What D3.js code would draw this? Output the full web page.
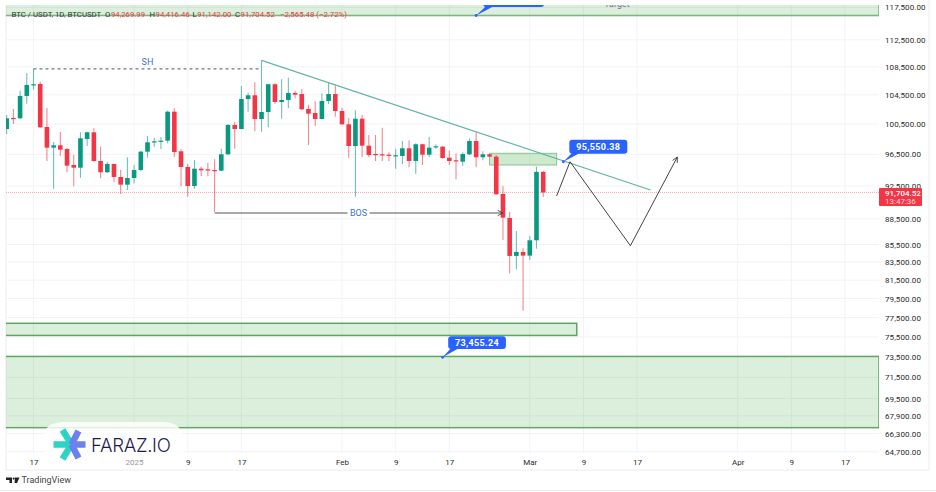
<!DOCTYPE html>
<html>
<head>
<meta charset="utf-8">
<script src="https://cdn.jsdelivr.net/npm/d3@7"></script>
<style>
html, body { margin: 0; padding: 0; background: #fff; }
svg { display: block; }
text { font-family: Roboto, sans-serif; }
</style>
</head>
<body>
<svg id="chart" width="936" height="492"></svg>
<script>
// daily candles, first one is 13 Dec 2024
var firstDay = Date.UTC(2024, 11, 13);
var opens = [99835,101320,101275,104350,105895,106040,100100,97370,97680,97200,95140,94795,98510,99395,95650,94215,95265,93625,92665,93495,94500,96850,98075,98205,98285,102175,96900,94885,92500,94670,94590,94500,94415,96510,100375,99835,103925,104445,101180,102135,106000,103510,103785,104765,104625,102545,102000,101180,103650,104625,102270,100465,97590,101220,97630,96550,96510,96460,96295,96295,97290,95650,97815,96460,97460,97500,96075,95740,95560,96510,98245,96125,96510,96205,91515,88600,84195,84650,84230,85985,94269.99];
var highs = [101725,102545,105090,107610,108190,106360,102680,98115,99435,97290,96420,99395,99475,99930,97500,95560,95305,94500,96125,95140,96940,98905,98680,98775,102310,102640,97160,95305,95775,94920,95395,95865,97240,100505,100775,105755,104810,106280,109450,106040,106135,106705,106935,105090,105285,103140,103605,104725,106220,105855,102725,101315,102365,101725,99040,99040,100010,96770,97240,98245,98340,97945,97895,98775,97815,97590,96975,96640,96770,98600,99435,96900,96550,96420,92500,89320,87065,85070,86485,94920,94416.46];
var lows = [99170,100505,101220,103275,105230,100010,95650,92165,96330,94210,92460,93535,97590,95560,93460,94125,92960,91515,92005,92835,94340,96075,97500,97200,97945,96165,92460,91185,92165,93750,93710,89320,94340,96420,97240,99795,102175,99570,99475,100065,103275,101220,102640,104025,102405,97725,100240,101140,103235,101495,100375,96075,91185,96125,96125,95650,95650,95650,94670,95225,94845,94035,95140,96165,97240,95945,95140,93335,95010,96420,94845,95740,96125,91390,86020,82250,82695,78215,83735,85025,91142];
var closes = [101275,101220,104350,105895,106000,100060,97370,97680,97110,95050,94795,98600,99395,95650,94215,95265,93625,92665,93495,94500,96850,98075,98205,98285,102175,96810,94885,92500,94670,94465,94465,94415,96510,100375,99835,103925,104445,101180,102135,106000,103510,103785,104765,104530,102505,101905,101180,103650,104625,102270,100465,97590,101220,97630,96420,96420,96420,96385,96385,97290,95650,97815,96460,97370,97555,96035,95650,95650,96550,98245,96125,96510,96205,91480,88640,84195,84650,84230,85985,94270,91704.52];

var priceTicks = [117500,112500,108500,104500,100500,96500,92500,88500,85500,83500,81500,79500,77500,75500,73500,71500,69500,67900,66300,64700];
var dateTicks = ["2024-12-17","2025-01-01","2025-01-09","2025-01-17","2025-02-01","2025-02-09","2025-02-17","2025-03-01","2025-03-09","2025-03-17","2025-04-01","2025-04-09","2025-04-17"].map(function(d) { return new Date(d); });
var dateLabels = ["17","2025","9","17","Feb","9","17","Mar","9","17","Apr","9","17"];

// drawings on the chart, [date, price]
var trendLine = [["2025-01-20",109450],["2025-03-19",92005]];
var swingHigh = [["2024-12-17",108190],["2025-01-20",108190]];
var bosLine = [["2025-01-13",89200],["2025-02-25",89200]];
var projection = [["2025-03-05",91266],["2025-03-07",95559],["2025-03-16",85361],["2025-03-23",96164]];
var zoneTop = [116217, 125000];
var zoneMid = [75654, 76900];
var zoneSmall = ["2025-02-23","2025-03-05",95140,96640];
var zoneLow = [66826, 73547];
var zoneMidEnd = "2025-03-08";
var lastPrice = 91704.52;

var svg = d3.select("#chart");
var plot = {left: 6, right: 879, top: 5, bottom: 453};

var x = d3.scaleUtc()
    .domain([new Date("2024-12-17"), new Date("2025-04-17")])
    .range([33.5, 845]);
var y = d3.scaleLog()
    .domain([64700, 92500, 117500])
    .range([451.7, 186, 7.3]);

var px = function(d) { return x(new Date(d)); };
var lineGen = d3.line()
    .x(function(d) { return px(d[0]); })
    .y(function(d) { return y(d[1]); });

svg.append("defs").append("clipPath").attr("id", "plotClip")
    .append("rect")
    .attr("x", plot.left).attr("y", plot.top)
    .attr("width", plot.right - plot.left).attr("height", plot.bottom - plot.top);
svg.select("defs").append("marker")
    .attr("id", "arrow").attr("viewBox", "0 0 8 8").attr("refX", 7).attr("refY", 4)
    .attr("markerWidth", 7).attr("markerHeight", 7).attr("orient", "auto")
    .attr("markerUnits", "userSpaceOnUse")
    .append("path").attr("d", "M1,1L7,4L1,7").attr("fill", "none").attr("stroke", "#444").attr("stroke-width", 1);

// frame
svg.append("path").attr("d", "M6,5V470H929V0M0,490.5H936").attr("fill", "none").attr("stroke", "#ececec");

// grid
svg.append("g").selectAll("line").data(priceTicks).enter().append("line")
    .attr("x1", plot.left).attr("x2", plot.right)
    .attr("y1", function(d) { return y(d); }).attr("y2", function(d) { return y(d); })
    .attr("stroke", "#f1f3f6");
svg.append("g").selectAll("line").data(dateTicks).enter().append("line")
    .attr("x1", function(d) { return x(d); }).attr("x2", function(d) { return x(d); })
    .attr("y1", plot.top).attr("y2", plot.bottom)
    .attr("stroke", "#f1f3f6");

var g = svg.append("g").attr("clip-path", "url(#plotClip)");

// zones
var zoneFill = "rgba(76,175,80,0.2)";
function hZone(x0, x1, prices, stroke, w) {
    g.append("rect")
        .attr("x", x0).attr("width", x1 - x0)
        .attr("y", y(prices[1])).attr("height", y(prices[0]) - y(prices[1]))
        .attr("fill", zoneFill).attr("stroke", stroke).attr("stroke-width", w);
}
hZone(0, plot.right, zoneTop, "#7ab97c", 1.6);
hZone(0, px(zoneMidEnd), zoneMid, "#5ba75e", 1.5);
hZone(0, plot.right, zoneLow, "#5fa962", 1.5);
hZone(px(zoneSmall[0]), px(zoneSmall[1]), zoneSmall.slice(2), "#8cc48e", 1);
g.select("rect:last-child").attr("fill", "rgba(76,175,80,0.28)");

// last price line
g.append("line")
    .attr("x1", plot.left).attr("x2", plot.right)
    .attr("y1", y(lastPrice)).attr("y2", y(lastPrice))
    .attr("stroke", "#f23645").attr("stroke-opacity", 0.45).attr("stroke-dasharray", "1,1");

// candles
var candles = opens.map(function(o, i) {
    return {date: new Date(firstDay + i * 86400000), o: o, h: highs[i], l: lows[i], c: closes[i]};
});
var bodyW = 4.6;
var color = function(d) { return d.c >= d.o ? "#089981" : "#f23645"; };
var cg = g.selectAll(".candle").data(candles).enter().append("g").attr("class", "candle");
cg.append("line")
    .attr("x1", function(d) { return x(d.date); }).attr("x2", function(d) { return x(d.date); })
    .attr("y1", function(d) { return y(d.h); }).attr("y2", function(d) { return y(d.l); })
    .attr("stroke", color).attr("stroke-opacity", 0.6).attr("stroke-width", 1.1);
cg.append("rect")
    .attr("x", function(d) { return x(d.date) - bodyW / 2; })
    .attr("width", bodyW)
    .attr("y", function(d) { return y(Math.max(d.o, d.c)); })
    .attr("height", function(d) { return Math.max(1.2, Math.abs(y(d.o) - y(d.c))); })
    .attr("fill", color);

// trend line, swing high, BOS, projected path
g.append("path").attr("d", lineGen(trendLine)).attr("fill", "none").attr("stroke", "#62b5a4").attr("stroke-width", 1.2);
g.append("path").attr("d", lineGen(swingHigh)).attr("fill", "none").attr("stroke", "#777").attr("stroke-width", 1.2).attr("stroke-dasharray", "3,3");
g.append("path").attr("d", lineGen(bosLine)).attr("fill", "none").attr("stroke", "#555").attr("stroke-width", 1).attr("marker-end", "url(#arrow)");
g.append("path").attr("d", lineGen(projection)).attr("fill", "none").attr("stroke", "#444").attr("stroke-width", 1).attr("marker-end", "url(#arrow)");

function noteLabel(txt, cx, cy) {
    var w = 22;
    g.append("rect").attr("x", cx - w / 2).attr("y", cy - 5).attr("width", w).attr("height", 10).attr("fill", "#fff");
    g.append("text").attr("x", cx).attr("y", cy + 3).attr("text-anchor", "middle")
        .attr("font-size", 9).attr("fill", "#3f6fe0").text(txt);
}
g.append("text").attr("x", 147.5).attr("y", y(108190) - 4).attr("text-anchor", "middle")
    .attr("font-size", 9).attr("fill", "#3f6fe0").text("SH");
noteLabel("BOS", 358.5, y(89200));

// blue price callouts
function callout(date, price, dx0, dx1, dy0, dy1, txt) {
    var tx = px(date), ty = y(price);
    var c = svg.append("g").attr("clip-path", "url(#plotClip)");
    c.append("path")
        .attr("d", "M" + tx + "," + ty + "L" + (tx + dx0 + 3) + "," + (ty + dy1 - 1) + "L" + (tx + dx0 + 11) + "," + (ty + dy1 - 1) + "Z")
        .attr("fill", "#2962ff");
    c.append("circle").attr("cx", tx).attr("cy", ty).attr("r", 1.4).attr("fill", "#2962ff");
    c.append("rect").attr("x", tx + dx0).attr("y", ty + dy0).attr("width", dx1 - dx0).attr("height", dy1 - dy0)
        .attr("rx", 3).attr("fill", "#2962ff");
    c.append("text").attr("x", tx + (dx0 + dx1) / 2).attr("y", ty + (dy0 + dy1) / 2 + 3.2)
        .attr("text-anchor", "middle").attr("font-size", 9).attr("font-weight", 700)
        .attr("letter-spacing", 0.35).attr("fill", "#fff").text(txt);
}
callout("2025-03-06", 95550.38, 6, 64, -22, -8, "95,550.38");
callout("2025-02-16", 73455.24, 5.6, 63.3, -21, -8.4, "73,455.24");
callout("2025-02-21", 116217, 7, 68, -20, -8.5, "");

g.append("text").attr("x", px("2025-03-14")).attr("y", 7).attr("text-anchor", "middle")
    .attr("font-size", 9).attr("fill", "#8a6a9c").text("Target");

// axes
var axisFont = "8px";
var yAxis = svg.append("g").attr("transform", "translate(" + plot.right + ",0)")
    .call(d3.axisRight(y).tickValues(priceTicks).tickSize(0).tickPadding(6).tickFormat(d3.format(",.2f")));
yAxis.select(".domain").remove();
yAxis.selectAll("text").style("font-size", axisFont).style("font-family", "Roboto, sans-serif").attr("fill", "#2a2a2a").attr("letter-spacing", 0.1);

var xAxis = svg.append("g").attr("transform", "translate(0," + plot.bottom + ")")
    .call(d3.axisBottom(x).tickValues(dateTicks).tickSize(0).tickPadding(6)
        .tickFormat(function(d, i) { return dateLabels[i]; }));
xAxis.select(".domain").remove();
xAxis.selectAll("text").style("font-size", axisFont).style("font-family", "Roboto, sans-serif")
    .attr("fill", function(d, i) { return dateLabels[i] === "2025" ? "#999" : "#2a2a2a"; });

// last price tag
svg.append("rect").attr("x", plot.right).attr("y", 188).attr("width", 43).attr("height", 18).attr("rx", 1).attr("fill", "#f23645");
svg.append("text").attr("x", 885).attr("y", 195.8).attr("font-size", 8).attr("font-weight", 500).attr("fill", "#fff").text(d3.format(",.2f")(lastPrice));
svg.append("text").attr("x", 885).attr("y", 203.5).attr("font-size", 8).attr("fill", "#ffd9dc").text("13:47:36");

// header legend
var head = svg.append("text").attr("x", 11.5).attr("y", 16.6).attr("font-size", 7.8);
head.append("tspan").attr("fill", "#333").text("BTC / USDT, 1D, BTCUSDT");
[["O", "94,269.99", 105], ["H", "94,416.46", 149.5], ["L", "91,142.00", 192.5], ["C", "91,704.52", 235]].forEach(function(p) {
    head.append("tspan").attr("x", p[2]).attr("fill", "#333").text(p[0]);
    head.append("tspan").attr("dx", 0.5).attr("fill", "#f23645").text(p[1]);
});
head.append("tspan").attr("x", 280).attr("fill", "#f23645").text("\u22122,565.48 (\u22122.72%)");

// faraz.io badge
svg.append("path").attr("d", "M43,453V440Q43,422 64,422H162Q183,422 183,440V453Z").attr("fill", "#fff").attr("fill-opacity", 0.82);
var star = svg.append("g").attr("transform", "translate(71.5,444.5)").attr("stroke-width", 6.5);
[[-18, 0], [-9, -14.5], [-9, 14.5]].forEach(function(a) {
    star.append("line").attr("x1", a[0]).attr("y1", a[1]).attr("x2", 0).attr("y2", 0).attr("stroke", "#2dd3c5");
});
[[14, 0], [7, -13.5], [7, 13.5]].forEach(function(a) {
    star.append("line").attr("x1", a[0]).attr("y1", a[1]).attr("x2", 0).attr("y2", 0).attr("stroke", "#6c80f0");
});
svg.append("text").attr("x", 91).attr("y", 452).attr("font-family", "Inter, sans-serif").attr("font-size", 18.6)
    .attr("font-weight", 300).attr("letter-spacing", -0.3).style("font-family", "Inter, sans-serif").attr("fill", "#1d1d4b").text("FARAZ.IO");

// tradingview mark
svg.append("path").attr("d", "M6,477.5H12V483H9.5V480H6ZM15,477.5H19.5L17,483H14.5Z").attr("fill", "#222");
svg.append("circle").attr("cx", 13.7).attr("cy", 478.6).attr("r", 1.1).attr("fill", "#222");
svg.append("text").attr("x", 21.5).attr("y", 483).attr("font-size", 9).attr("fill", "#444").text("TradingView");
</script>
</body>
</html>
